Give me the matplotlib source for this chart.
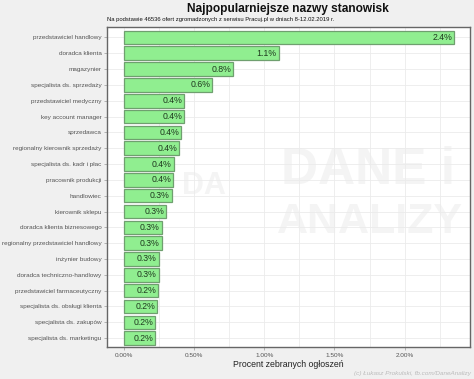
import matplotlib.pyplot as plt
import numpy as np

plt.rcParams['font.family'] = ['Liberation Sans', 'DejaVu Sans']

# nazwy stanowisk (od góry) i procent ogłoszeń
stanowiska = ['przedstawiciel handlowy', 'doradca klienta', 'magazynier',
              'specjalista ds. sprzedaży', 'przedstawiciel medyczny',
              'key account manager', 'sprzedawca',
              'regionalny kierownik sprzedaży', 'specjalista ds. kadr i płac',
              'pracownik produkcji', 'handlowiec', 'kierownik sklepu',
              'doradca klienta biznesowego',
              'regionalny przedstawiciel handlowy', 'inżynier budowy',
              'doradca techniczno-handlowy', 'przedstawiciel farmaceutyczny',
              'specjalista ds. obsługi klienta', 'specjalista ds. zakupów',
              'specjalista ds. marketingu']
procent = [2.352, 1.102, 0.780, 0.631, 0.433, 0.433, 0.409, 0.397, 0.357,
           0.352, 0.343, 0.303, 0.272, 0.270, 0.251, 0.251, 0.246, 0.241,
           0.227, 0.227]
xticks = [0, 0.5, 1.0, 1.5, 2.0]
xticklabels = ['0.00%', '0.50%', '1.00%', '1.50%', '2.00%']

bg = '#f0f0f0'
fig = plt.figure(figsize=(4.74, 3.79), dpi=100, facecolor=bg)
ax = fig.add_axes([0.2257, 0.084, 0.7662, 0.8445])
ax.set_facecolor('white')

y = np.arange(len(stanowiska))
ax.barh(y, procent, height=0.86, color='#90ee90', edgecolor='#6f9f6f',
        linewidth=0.9, zorder=3)
for yi, v in zip(y, procent):
    ax.text(v - 0.015, yi, f'{v:.1f}%', ha='right', va='center',
            fontsize=6.3, color='#1f3a1f', zorder=4)

ax.set_ylim(len(stanowiska) - 0.43, -0.65)
ax.set_xlim(-0.118, 2.465)
ax.set_yticks(y)
ax.set_yticklabels(stanowiska, fontsize=4.6, color='#555555')
ax.set_xticks(xticks)
ax.set_xticklabels(xticklabels, fontsize=4.6, color='#555555')
ax.set_xticks(np.arange(0.25, 2.5, 0.5), minor=True)
ax.tick_params(axis='both', length=2, width=0.5, color='#999999', pad=2)
ax.tick_params(axis='x', which='minor', length=0)
ax.grid(True, which='both', color='#ebebeb', linewidth=0.6)
ax.set_axisbelow(True)
for s in ax.spines.values():
    s.set_color('#666666')
    s.set_linewidth(1.0)

ax.set_xlabel('Procent zebranych ogłoszeń', fontsize=6.3, color='#222222',
              labelpad=2)

# znak wodny (pod siatką)
wm = dict(va='center', fontweight='bold', color='#f4f4f4',
          zorder=0.2, transform=fig.transFigure)
ax.text(368 / 474, 1 - 170 / 379, 'DANE i', fontsize=37, ha='center', **wm)
ax.text(370 / 474, 1 - 222 / 379, 'ANALIZY', fontsize=31, ha='center', **wm)
ax.text(182 / 474, 1 - 186 / 379, 'DA', fontsize=22, ha='left', **wm)

fig.text(0.608, 1 - 9 / 379, 'Najpopularniejsze nazwy stanowisk',
         ha='center', va='center', fontsize=8.6, fontweight='bold',
         color='#111111')
fig.text(0.2257, 1 - 19.5 / 379, 'Na podstawie 46536 ofert zgromadzonych '
         'z serwisu Pracuj.pl w dniach 8-12.02.2019 r.', ha='left',
         va='center', fontsize=4.25, color='#111111')
fig.text(0.993, 0.008, '(c) Łukasz Prokulski, fb.com/DaneAnalizy',
         ha='right', va='bottom', fontsize=4.6, style='italic',
         color='#bbbbbb')

fig.savefig('out.png', dpi=100, facecolor=bg)
